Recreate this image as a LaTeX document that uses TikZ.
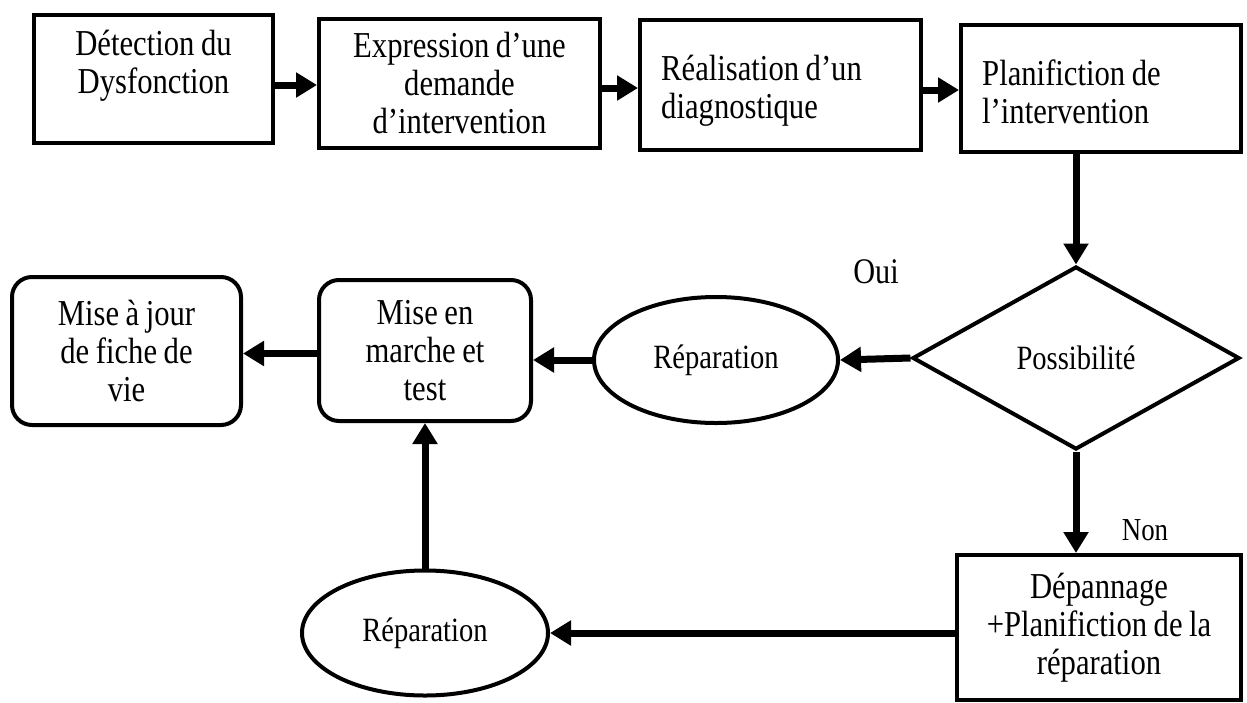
\documentclass[tikz,border=0pt]{standalone}
\usepackage{fontspec}
\setmainfont{Liberation Serif}[FakeStretch=0.84,WordSpace=0.85]
\usetikzlibrary{arrows.meta,shapes.geometric}

\begin{document}
\begin{tikzpicture}[x=1pt,y=-1pt,
  boxtxt/.style={font=\fontsize{36.5}{38}\selectfont},
  smalltxt/.style={font=\fontsize{34}{36}\selectfont},
  stepbox/.style={draw,line width=4pt,rectangle,inner sep=0pt,boxtxt,align=center},
  roundbox/.style={stepbox,rounded corners=20pt},
  oval/.style={draw,line width=4pt,ellipse,inner sep=0pt,smalltxt},
  decision/.style={draw,line width=4pt,diamond,inner sep=0pt,smalltxt},
  steptext/.style={inner sep=0pt,boxtxt},
  flow/.style={line width=7pt,-{Triangle[length=21pt,width=24pt]}},
  tag/.style={inner sep=0pt,font=\fontsize{36}{38}\selectfont}]

\useasboundingbox (0,0) rectangle (1247,702);

% top row of process steps (frames, then their wording)
\node[stepbox,minimum width=239pt,minimum height=128pt] (det) at (153.5,79) {};
\node[steptext,align=center] (dettext) at (153.5,66) {Détection du\\Dysfonction};
\node[stepbox,minimum width=281pt,minimum height=129pt] (exp) at (459.5,83.5)
  {Expression d’une\\demande\\d’intervention};
\node[stepbox,minimum width=281pt,minimum height=130pt] (diag) at (780.5,85) {};
\node[steptext,align=left,anchor=west] (diagtext) at (661,91) {Réalisation d’un\\diagnostique};
\node[stepbox,minimum width=280pt,minimum height=127pt] (plan) at (1101,88.5) {};
\node[steptext,align=left,anchor=west] (plantext) at (982,92) {Planifiction de\\l’intervention};

% decision and its two branches
\node[decision,minimum width=327pt,minimum height=183pt] (poss) at (1076,358) {Possibilité};
\node[oval,minimum width=244pt,minimum height=126pt] (rep1) at (716,360) {Réparation};
\node[roundbox,minimum width=212pt,minimum height=141pt] (test) at (425,350.5)
  {Mise en\\marche et\\test};
\node[roundbox,minimum width=229pt,minimum height=148pt] (maj) at (126.5,351)
  {Mise à jour\\de fiche de\\vie};
\node[stepbox,minimum width=284pt,minimum height=145pt] (dep) at (1099,627.5)
  {Dépannage\\+Planifiction de la\\réparation};
\node[oval,minimum width=246pt,minimum height=125pt] (rep2) at (425,633) {Réparation};

% branch labels
\node[tag] (oui) at (876,272) {Oui};
\node[tag,font=\fontsize{32}{34}\selectfont] (non) at (1145,530) {Non};

% connectors
\draw[flow] ([yshift=-6pt]det.east) -- ([yshift=-1.5pt]exp.west);
\draw[flow] ([yshift=-4.5pt]exp.east) -- ([yshift=-3pt]diag.west);
\draw[flow] ([yshift=-5pt]diag.east) -- ([yshift=-1.5pt]plan.west);
\draw[flow] (poss.north |- plan.south) -- (poss.north);
\draw[flow] (poss.west) -- (rep1.east);
\draw[flow] (rep1.west) -- (rep1.west -| test.east);
\draw[flow] ([yshift=-3pt]test.west) -- ([yshift=-3pt]test.west -| maj.east);
\draw[flow] (rep2.north) -- (test.south);
\draw[flow] (poss.south) -- (poss.south |- dep.north);
\draw[flow] (rep2.east -| dep.west) -- (rep2.east);
\end{tikzpicture}
\end{document}
